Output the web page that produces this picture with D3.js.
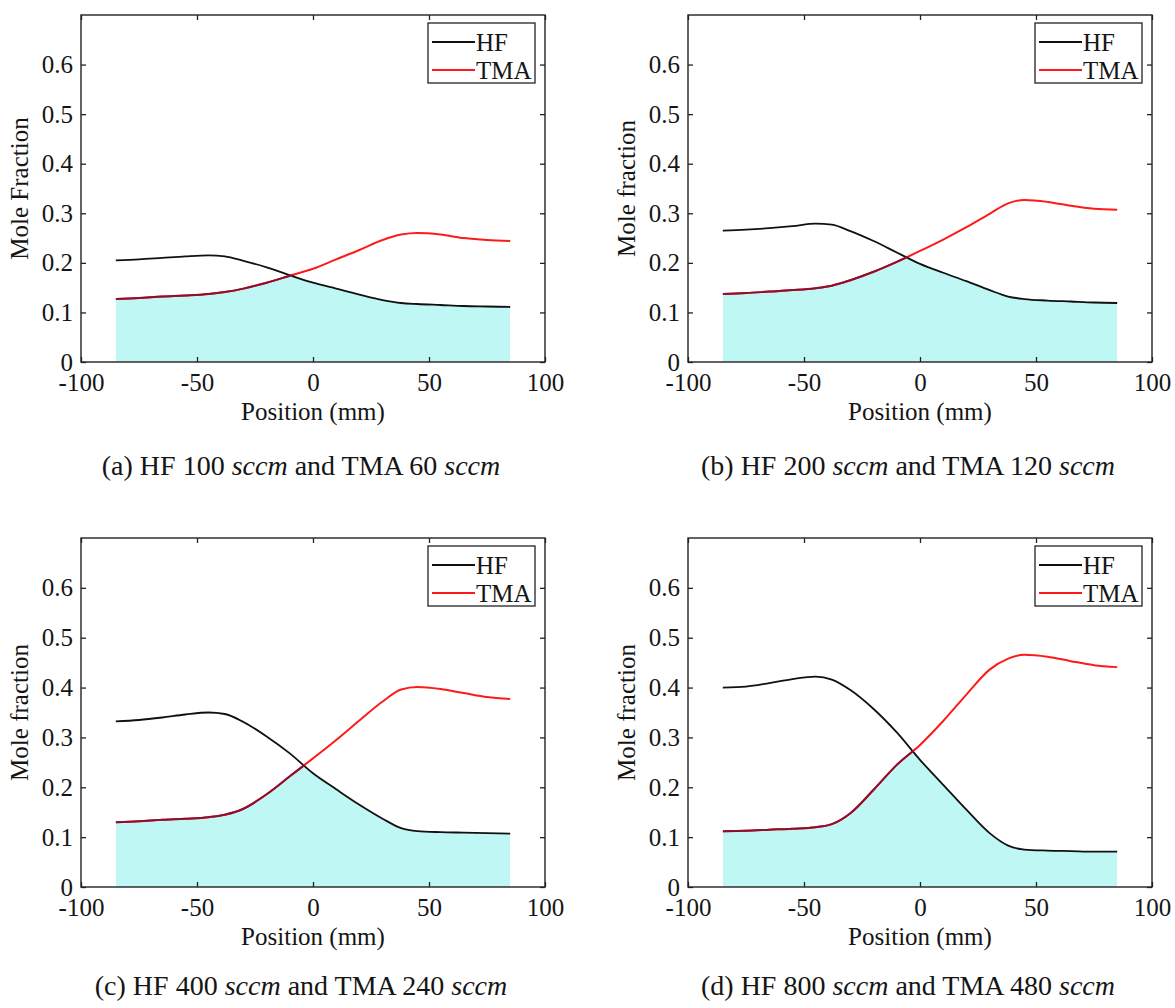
<!DOCTYPE html>
<html>
<head>
<meta charset="utf-8">
<script src="https://cdn.jsdelivr.net/npm/d3@7"></script>
<style>
  html, body { margin: 0; padding: 0; background: #fff; }
  svg { display: block; }
  svg text { font-family: "Liberation Serif", "Times New Roman", Tinos, "DejaVu Serif", serif !important; fill: #151515; }
</style>
</head>
<body>
<svg id="chart" width="1175" height="1008"></svg>
<script>
// ---------------- data ----------------
const positions = [-85, -75, -65, -55, -45, -38, -30, -20, -10, 0, 10, 20, 30, 38, 45, 55, 65, 75, 85];

const hfA  = [0.205, 0.207, 0.210, 0.213, 0.215, 0.213, 0.204, 0.191, 0.175, 0.160, 0.148, 0.136, 0.125, 0.119, 0.117, 0.115, 0.113, 0.112, 0.111];
const tmaA = [0.127, 0.129, 0.132, 0.134, 0.137, 0.141, 0.148, 0.160, 0.174, 0.188, 0.207, 0.226, 0.246, 0.257, 0.260, 0.257, 0.250, 0.246, 0.244];

const hfB  = [0.265, 0.267, 0.270, 0.274, 0.279, 0.277, 0.264, 0.244, 0.221, 0.198, 0.180, 0.163, 0.145, 0.132, 0.127, 0.124, 0.122, 0.120, 0.119];
const tmaB = [0.137, 0.139, 0.142, 0.145, 0.149, 0.154, 0.165, 0.182, 0.202, 0.224, 0.247, 0.272, 0.299, 0.320, 0.327, 0.323, 0.315, 0.309, 0.307];

const hfC  = [0.332, 0.335, 0.340, 0.346, 0.350, 0.347, 0.331, 0.302, 0.268, 0.228, 0.196, 0.165, 0.137, 0.118, 0.112, 0.110, 0.109, 0.108, 0.107];
const tmaC = [0.130, 0.132, 0.135, 0.137, 0.140, 0.145, 0.157, 0.186, 0.222, 0.258, 0.295, 0.334, 0.372, 0.396, 0.401, 0.397, 0.389, 0.381, 0.377];

const hfD  = [0.400, 0.402, 0.409, 0.417, 0.422, 0.416, 0.395, 0.357, 0.310, 0.255, 0.205, 0.155, 0.108, 0.083, 0.075, 0.073, 0.072, 0.071, 0.071];
const tmaD = [0.112, 0.113, 0.115, 0.117, 0.120, 0.126, 0.148, 0.195, 0.245, 0.285, 0.333, 0.386, 0.436, 0.458, 0.466, 0.462, 0.453, 0.445, 0.441];

const xTicks = [-100, -50, 0, 50, 100];
const yTicks = [0, 0.1, 0.2, 0.3, 0.4, 0.5, 0.6];
const seriesNames = ["HF", "TMA"];
const yLabels = ["Mole Fraction", "Mole fraction", "Mole fraction", "Mole fraction"];
const captions = [
  ["(a) HF 100 ", "sccm", " and TMA 60 ", "sccm"],
  ["(b) HF 200 ", "sccm", " and TMA 120 ", "sccm"],
  ["(c) HF 400 ", "sccm", " and TMA 240 ", "sccm"],
  ["(d) HF 800 ", "sccm", " and TMA 480 ", "sccm"]
];
const xLabel = "Position (mm)";

// ---------------- layout ----------------
const panels = [
  { hf: hfA, tma: tmaA, left: 81,  top: 15,  right: 545,  bottom: 362, capY: 465 },
  { hf: hfB, tma: tmaB, left: 688, top: 15,  right: 1152, bottom: 362, capY: 465 },
  { hf: hfC, tma: tmaC, left: 81,  top: 538, right: 545,  bottom: 887, capY: 985 },
  { hf: hfD, tma: tmaD, left: 688, top: 538, right: 1152, bottom: 887, capY: 985 }
];

const SERIF = '"Liberation Serif", "Times New Roman", Tinos, "DejaVu Serif", serif';
const svg = d3.select("#chart");
const FS = 25;
const fillColor = "#bff7f5";
const lineColors = ["#111111", "#ff1a1a"];

panels.forEach((p, i) => {
  const w = p.right - p.left, h = p.bottom - p.top;
  const g = svg.append("g").attr("transform", `translate(${p.left},${p.top})`);
  const x = d3.scaleLinear().domain([-100, 100]).range([0, w]);
  const y = d3.scaleLinear().domain([0, 0.7]).range([h, 0]);

  const pts = positions.map((v, k) => ({ x: v, hf: p.hf[k], tma: p.tma[k] }));
  const areaTMA = d3.area().curve(d3.curveMonotoneX).x(d => x(d.x)).y0(y(0)).y1(d => y(d.tma));
  const areaHF = d3.area().curve(d3.curveMonotoneX).x(d => x(d.x)).y0(y(0)).y1(d => y(d.hf));

  const clipT = "clipTMA" + i, clipH = "clipHF" + i;
  g.append("clipPath").attr("id", clipT).append("path").attr("d", areaTMA(pts));
  g.append("clipPath").attr("id", clipH).append("path").attr("d", areaHF(pts))
    .attr("transform", "translate(0,-1.5)");

  // shaded region under the lower of the two curves
  g.append("path")
    .attr("clip-path", `url(#${clipT})`)
    .attr("fill", fillColor)
    .attr("d", areaHF(pts));

  // lines
  const lineHF = d3.line().curve(d3.curveMonotoneX).x(d => x(d.x)).y(d => y(d.hf));
  const lineTMA = d3.line().curve(d3.curveMonotoneX).x(d => x(d.x)).y(d => y(d.tma));
  g.append("path").attr("d", lineHF(pts)).attr("fill", "none")
    .attr("stroke", lineColors[0]).attr("stroke-width", 1.8);
  g.append("path").attr("d", lineTMA(pts)).attr("fill", "none")
    .attr("stroke", lineColors[1]).attr("stroke-width", 2);
  // darker edge where TMA bounds the shaded region
  g.append("path").attr("d", lineTMA(pts)).attr("fill", "none")
    .attr("clip-path", `url(#${clipH})`)
    .attr("stroke", "#8a1030").attr("stroke-width", 2);

  // axes
  const fmtY = d => d === 0 ? "0" : d.toFixed(1);
  const axB = g.append("g").attr("transform", `translate(0,${h})`)
    .call(d3.axisBottom(x).tickValues(xTicks).tickSize(-5).tickPadding(11).tickFormat(d3.format("d")));
  const axL = g.append("g")
    .call(d3.axisLeft(y).tickValues(yTicks).tickSize(-5).tickPadding(8).tickFormat(fmtY));
  const axT = g.append("g")
    .call(d3.axisTop(x).tickValues(xTicks).tickSize(-5).tickFormat(""));
  const axR = g.append("g").attr("transform", `translate(${w},0)`)
    .call(d3.axisRight(y).tickValues(yTicks).tickSize(-5).tickFormat(""));
  [axB, axL, axT, axR].forEach(a => {
    a.attr("font-family", SERIF).attr("font-size", FS);
    a.select(".domain").remove();
    a.selectAll("line").attr("stroke", "#222").attr("stroke-width", 1.3);
    a.selectAll("text").attr("font-size", FS).attr("font-family", SERIF).attr("fill", "#151515");
  });
  axB.selectAll("text").text(d => d < 0 ? "-" + Math.abs(d) : d);

  // frame
  g.append("rect").attr("x", 0).attr("y", 0).attr("width", w).attr("height", h)
    .attr("fill", "none").attr("stroke", "#222").attr("stroke-width", 1.4);

  // axis labels
  g.append("text").attr("x", w / 2).attr("y", h + 58).attr("font-family", SERIF)
    .attr("text-anchor", "middle").attr("font-size", FS).text(xLabel);
  g.append("text").attr("transform", `translate(-53,${h / 2}) rotate(-90)`).attr("font-family", SERIF)
    .attr("text-anchor", "middle").attr("font-size", FS).text(yLabels[i]);

  // legend
  const lg = g.append("g").attr("transform", `translate(${w - 117},8)`);
  lg.append("rect").attr("width", 107).attr("height", 60)
    .attr("fill", "#fff").attr("stroke", "#222").attr("stroke-width", 1.3);
  seriesNames.forEach((s, k) => {
    const yy = 19 + k * 28;
    lg.append("line").attr("x1", 4).attr("x2", 47).attr("y1", yy).attr("y2", yy)
      .attr("stroke", lineColors[k]).attr("stroke-width", 1.8);
    lg.append("text").attr("x", 48).attr("y", yy).attr("dy", "0.35em").attr("font-family", SERIF)
      .attr("font-size", FS).text(s);
  });

  // caption
  const cap = svg.append("text")
    .attr("x", p.left + w / 2 - 12).attr("y", p.capY).attr("font-family", SERIF)
    .attr("dy", "0.35em").attr("text-anchor", "middle").attr("font-size", 28);
  captions[i].forEach((part, k) => {
    cap.append("tspan").attr("font-style", k % 2 === 1 ? "italic" : "normal").text(part);
  });
});
</script>
</body>
</html>
